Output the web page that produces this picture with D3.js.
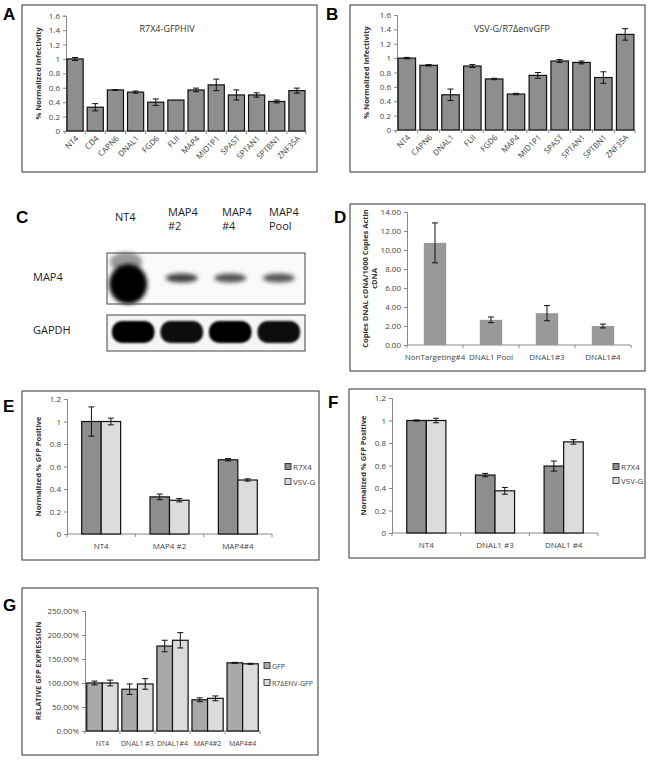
<!DOCTYPE html>
<html lang="en">
<head>
<meta charset="UTF-8">
<title>MAP4 / DNAL1 knockdown panels</title>
<script src="https://cdnjs.cloudflare.com/ajax/libs/d3/7.8.5/d3.min.js"></script>
<style>
  body { margin: 0; padding: 0; background: #fff; }
  svg text { font-family: "Open Sans", "Liberation Sans", Arial, sans-serif; }
</style>
</head>
<body>
<div id="fig"></div>
<script>
// ---- data ----
const aCats = ['NT4','CD4','CAPN6','DNAL1','FGD6','FLII','MAP4','MID1P1','SPAST','SPTAN1','SPTBN1','ZNF35A'];
const aVals = [1.0, 0.33, 0.57, 0.54, 0.40, 0.43, 0.57, 0.64, 0.50, 0.50, 0.41, 0.56];
const aErrs = [0.02, 0.05, 0.005, 0.015, 0.045, 0, 0.025, 0.08, 0.07, 0.03, 0.02, 0.035];

const bCats = ['NT4','CAPN6','DNAL1','FLII','FGD6','MAP4','MID1P1','SPAST','SPTAN1','SPTBN1','ZNF35A'];
const bVals = [1.0, 0.90, 0.49, 0.89, 0.71, 0.50, 0.76, 0.96, 0.94, 0.73, 1.33];
const bErrs = [0.01, 0.01, 0.08, 0.02, 0.01, 0.01, 0.04, 0.02, 0.02, 0.08, 0.08];

const dCats = ['NonTargeting#4', 'DNAL1 Pool', 'DNAL1#3', 'DNAL1#4'];
const dVals = [10.75, 2.65, 3.35, 2.0];
const dErrs = [2.1, 0.3, 0.8, 0.2];

const eCats = ['NT4', 'MAP4 #2', 'MAP4#4'];
const eR7X4 = [1.0, 0.33, 0.66];
const eR7X4Err = [0.13, 0.025, 0.01];
const eVSVG = [1.0, 0.30, 0.48];
const eVSVGErr = [0.03, 0.015, 0.01];

const fCats = ['NT4', 'DNAL1 #3', 'DNAL1 #4'];
const fR7X4 = [1.0, 0.515, 0.595];
const fR7X4Err = [0.005, 0.015, 0.045];
const fVSVG = [1.0, 0.375, 0.81];
const fVSVGErr = [0.02, 0.03, 0.02];

const gCats = ['NT4', 'DNAL1 #3', 'DNAL1#4', 'MAP4#2', 'MAP4#4'];
const gGFP = [1.00, 0.87, 1.77, 0.65, 1.42];
const gGFPErr = [0.04, 0.11, 0.12, 0.04, 0.01];
const gEnv = [1.00, 0.98, 1.89, 0.68, 1.40];
const gEnvErr = [0.06, 0.11, 0.16, 0.05, 0.01];

// western blot (panel C)
const blotLanes = [['NT4'], ['MAP4', '#2'], ['MAP4', '#4'], ['MAP4', 'Pool']];
const map4Signal = [1.0, 0.7, 0.62, 0.6];
const gapdhSignal = [1.0, 0.95, 1.0, 0.95];

const svg = d3.select('#fig').append('svg')
  .attr('width', 651).attr('height', 760);

const defs = svg.append('defs');
defs.append('filter').attr('id', 'blur2').attr('x', '-30%').attr('y', '-60%').attr('width', '160%').attr('height', '220%')
  .append('feGaussianBlur').attr('stdDeviation', 2.2);
defs.append('filter').attr('id', 'blur1').attr('x', '-30%').attr('y', '-60%').attr('width', '160%').attr('height', '220%')
  .append('feGaussianBlur').attr('stdDeviation', 1.3);

function panelBox(x, y, w, h) {
  svg.append('rect').attr('x', x).attr('y', y).attr('width', w).attr('height', h)
    .attr('fill', 'none').attr('stroke', '#333').attr('stroke-width', 1);
}
function letter(t, x, y) {
  svg.append('text').attr('x', x).attr('y', y).text(t)
    .attr('font-size', 17).attr('font-weight', 'bold').attr('fill', '#000')
    .style('font-family', 'Arial, "Liberation Sans", sans-serif');
}

// generic bar chart
function barChart(o) {
  const g = svg.append('g');
  const fs = o.fs || 8;
  const x = d3.scaleBand().domain(o.cats).range(o.xr)
    .paddingInner(o.pi).paddingOuter(o.po);
  const y = d3.scaleLinear().domain([0, o.ymax]).range(o.yr);
  const inner = d3.scaleBand().domain(d3.range(o.series.length)).range([0, x.bandwidth()]);

  // y axis
  const ya = d3.axisLeft(y).tickValues(d3.range(0, o.ymax + 1e-9, o.step))
    .tickSize(3).tickFormat(o.fmt);
  const yg = g.append('g').attr('transform', `translate(${o.xr[0]},0)`).call(ya);
  yg.select('.domain').attr('stroke', '#888');
  yg.selectAll('.tick line').attr('stroke', '#888');
  yg.selectAll('.tick text').attr('font-size', 8).attr('fill', '#444')
    .style('font-family', '"Open Sans", "Liberation Sans", sans-serif');

  // x axis line with ticks between categories
  g.append('line').attr('x1', o.xr[0]).attr('x2', o.xr[1])
    .attr('y1', y(0)).attr('y2', y(0)).attr('stroke', '#888');
  const edges = o.cats.map(c => x(c) - x.step() * x.paddingInner() / 2).concat([o.xr[1]]);
  g.selectAll('.xt').data(edges).join('line')
    .attr('x1', d => d).attr('x2', d => d)
    .attr('y1', y(0)).attr('y2', y(0) + 3).attr('stroke', '#888');

  o.series.forEach((s, si) => {
    const bars = o.cats.map((c, i) => ({ c, v: s.values[i], e: s.errs[i] }));
    g.selectAll(null).data(bars).join('rect')
      .attr('x', d => x(d.c) + inner(si))
      .attr('y', d => y(d.v))
      .attr('width', inner.bandwidth())
      .attr('height', d => y(0) - y(d.v))
      .attr('fill', s.fill)
      .attr('stroke', o.stroke ? '#111' : 'none')
      .attr('stroke-width', o.stroke ? 1.2 : 0);
    const cx = d => x(d.c) + inner(si) + inner.bandwidth() / 2;
    const eb = g.selectAll(null).data(bars.filter(d => d.e > 0)).join('g');
    eb.append('line').attr('x1', cx).attr('x2', cx)
      .attr('y1', d => y(d.v + d.e)).attr('y2', d => y(d.v - d.e))
      .attr('stroke', '#111').attr('stroke-width', 1);
    eb.append('line').attr('x1', d => cx(d) - 3).attr('x2', d => cx(d) + 3)
      .attr('y1', d => y(d.v + d.e)).attr('y2', d => y(d.v + d.e))
      .attr('stroke', '#111').attr('stroke-width', 1);
    eb.append('line').attr('x1', d => cx(d) - 3).attr('x2', d => cx(d) + 3)
      .attr('y1', d => y(d.v - d.e)).attr('y2', d => y(d.v - d.e))
      .attr('stroke', '#111').attr('stroke-width', 1);
  });

  // category labels
  const xl = g.selectAll(null).data(o.cats).join('text')
    .text(d => d).attr('fill', '#444').attr('font-size', fs);
  if (o.rotate) {
    xl.attr('text-anchor', 'end')
      .attr('transform', d => `translate(${x(d) + x.bandwidth() / 2 + 4},${y(0) + 8}) rotate(-45)`);
  } else {
    xl.attr('text-anchor', 'middle')
      .attr('x', d => x(d) + x.bandwidth() / 2).attr('y', y(0) + 15);
  }

  // y label
  const lines = o.ylabel;
  const ymid = (o.yr[0] + o.yr[1]) / 2;
  lines.forEach((t, i) => {
    g.append('text').text(t)
      .attr('transform', `translate(${o.ylx + i * 9},${ymid}) rotate(-90)`)
      .attr('text-anchor', 'middle').attr('font-size', 7.5).attr('font-weight', 'bold').attr('fill', '#333');
  });

  if (o.title) {
    g.append('text').text(o.title.t).attr('x', o.title.x).attr('y', o.title.y)
      .attr('text-anchor', 'middle').attr('font-size', 9).attr('fill', '#333');
  }

  if (o.legend) {
    o.series.forEach((s, si) => {
      const ly = o.legend.y + si * o.legend.dy;
      g.append('rect').attr('x', o.legend.x).attr('y', ly - 3.5).attr('width', 6).attr('height', 6)
        .attr('fill', s.fill).attr('stroke', '#222').attr('stroke-width', 0.8);
      g.append('text').text(s.name).attr('x', o.legend.x + 8).attr('y', ly + 2.5)
        .attr('font-size', fs).attr('fill', '#444');
    });
  }
}

const dark = '#8e8e8e', light = '#dcdcdc';

// ---- A ----
panelBox(22, 5, 295, 167);
letter('A', 3, 20);
barChart({
  cats: aCats, xr: [66, 306], yr: [131, 15.7], ymax: 1.6, step: 0.2, pi: 0.2, po: 0.05,
  fmt: d3.format('~g'), stroke: true, rotate: true,
  series: [{ values: aVals, errs: aErrs, fill: dark }],
  ylabel: ['% Normalized Infectivity'], ylx: 41,
  title: { t: 'R7X4-GFPHIV', x: 167, y: 32 }
});

// ---- B ----
panelBox(350, 5, 295, 167);
letter('B', 326, 20);
barChart({
  cats: bCats, xr: [397, 635], yr: [130, 15], ymax: 1.6, step: 0.2, pi: 0.2, po: 0.05,
  fmt: d3.format('~g'), stroke: true, rotate: true,
  series: [{ values: bVals, errs: bErrs, fill: dark }],
  ylabel: ['% Normalized Infectivity'], ylx: 369,
  title: { t: 'VSV-G/R7\u0394envGFP', x: 512, y: 32 }
});

// ---- C : western blot ----
letter('C', 16, 223);
const lane = d3.scaleBand().domain(d3.range(blotLanes.length)).range([107, 305]).padding(0.08);
const laneLabelX = [115, 168, 222, 269];
blotLanes.forEach((lines, i) => {
  lines.forEach((t, j) => {
    svg.append('text').text(t)
      .attr('x', laneLabelX[i]).attr('y', (lines.length === 1 ? 221 : 216) + j * 14)
      .attr('font-size', 11).attr('fill', '#222');
  });
});
svg.append('text').text('MAP4').attr('x', 33).attr('y', 281).attr('font-size', 11).attr('fill', '#222');
svg.append('text').text('GAPDH').attr('x', 33).attr('y', 334).attr('font-size', 11).attr('fill', '#222');

const blot1 = svg.append('g');
blot1.append('rect').attr('x', 107).attr('y', 253).attr('width', 198).attr('height', 51).attr('fill', '#fafafa');
blot1.append('ellipse').attr('cx', 126).attr('cy', 262).attr('rx', 16).attr('ry', 10)
  .attr('fill', '#999').attr('filter', 'url(#blur2)');
// MAP4 bands
blot1.selectAll(null).data(map4Signal).join('ellipse')
  .attr('cx', (d, i) => lane(i) + lane.bandwidth() / 2 + (i === 0 ? -5 : 0))
  .attr('cy', (d, i) => i === 0 ? 284 : 278)
  .attr('rx', (d, i) => i === 0 ? 19 : 16)
  .attr('ry', (d, i) => i === 0 ? 20 : 4.5)
  .attr('fill', d => d3.interpolateGreys(0.3 + d * 0.7))
  .attr('filter', 'url(#blur2)');
blot1.append('rect').attr('x', 107).attr('y', 253).attr('width', 198).attr('height', 51)
  .attr('fill', 'none').attr('stroke', '#444');

const blot2 = svg.append('g');
blot2.append('rect').attr('x', 107).attr('y', 315).attr('width', 198).attr('height', 36).attr('fill', '#f5f5f5');
blot2.selectAll(null).data(gapdhSignal).join('rect')
  .attr('x', (d, i) => lane(i) + 1)
  .attr('y', 321)
  .attr('width', lane.bandwidth() - 2)
  .attr('height', 22)
  .attr('rx', 10)
  .attr('fill', d => d3.interpolateGreys(0.55 + d * 0.45))
  .attr('filter', 'url(#blur1)');
blot2.append('rect').attr('x', 107).attr('y', 315).attr('width', 198).attr('height', 36)
  .attr('fill', 'none').attr('stroke', '#444');

// ---- D ----
panelBox(350, 204, 295, 167);
letter('D', 334, 223);
barChart({
  cats: dCats, xr: [407, 631], yr: [345, 212], ymax: 14, step: 2, pi: 0.6, po: 0.3,
  fmt: d3.format('.2f'), stroke: false, rotate: false,
  series: [{ values: dVals, errs: dErrs, fill: '#999999' }],
  ylabel: ['Copies DNAL cDNA/1000 Copies Actin', 'cDNA'], ylx: 368
});

// ---- E ----
panelBox(22, 391, 297, 169);
letter('E', 3, 412);
barChart({
  cats: eCats, xr: [67, 272], yr: [534, 399], ymax: 1.2, step: 0.2, pi: 0.43, po: 0.215,
  fmt: d3.format('~g'), stroke: true, rotate: false,
  series: [
    { name: 'R7X4', values: eR7X4, errs: eR7X4Err, fill: dark },
    { name: 'VSV-G', values: eVSVG, errs: eVSVGErr, fill: light }
  ],
  ylabel: ['Normalized % GFP Positive'], ylx: 41,
  legend: { x: 285, y: 467, dy: 15 }
});

// ---- F ----
panelBox(349, 389, 296, 169);
letter('F', 328, 408);
barChart({
  cats: fCats, xr: [392, 598], yr: [533, 398], ymax: 1.2, step: 0.2, pi: 0.43, po: 0.215,
  fmt: d3.format('~g'), stroke: true, rotate: false,
  series: [
    { name: 'R7X4', values: fR7X4, errs: fR7X4Err, fill: dark },
    { name: 'VSV-G', values: fVSVG, errs: fVSVGErr, fill: light }
  ],
  ylabel: ['Normalized % GFP Positive'], ylx: 366,
  legend: { x: 613, y: 467, dy: 14 }
});

// ---- G ----
panelBox(22, 588, 296, 167);
letter('G', 3, 611);
barChart({
  cats: gCats, xr: [85, 260], yr: [731, 611], ymax: 2.5, step: 0.5, pi: 0.11, po: 0.05,
  fmt: d3.format('.2%'), stroke: true, rotate: false, fs: 7,
  series: [
    { name: 'GFP', values: gGFP, errs: gGFPErr, fill: '#a9a9a9' },
    { name: 'R7\u0394ENV-GFP', values: gEnv, errs: gEnvErr, fill: light }
  ],
  ylabel: ['RELATIVE GFP EXPRESSION'], ylx: 41,
  legend: { x: 264, y: 666, dy: 17 }
});
</script>
</body>
</html>
